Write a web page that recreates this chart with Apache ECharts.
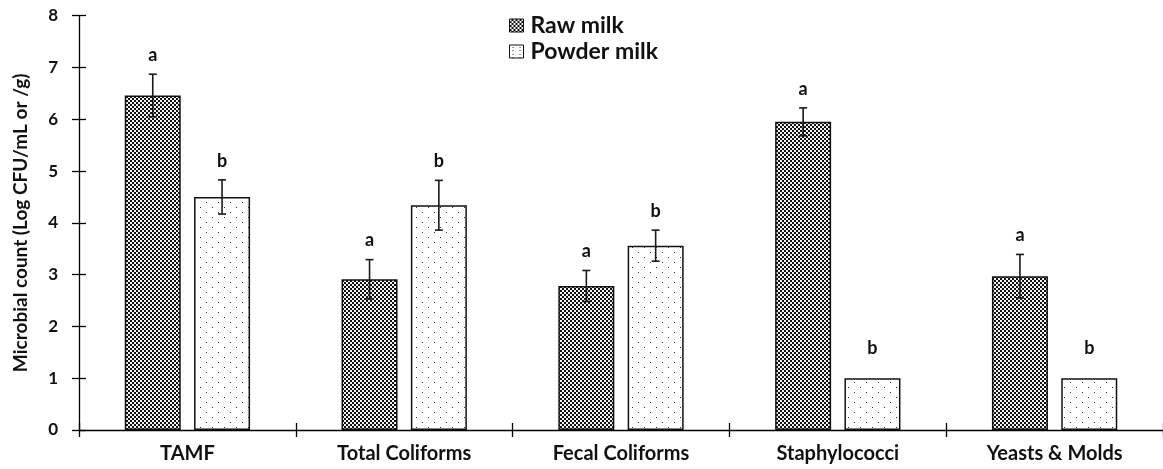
<!DOCTYPE html>
<html><head><meta charset="utf-8">
<script src="https://cdn.jsdelivr.net/npm/echarts@6/dist/echarts.min.js"></script>
<style>html,body{margin:0;padding:0;background:#fff}#c{width:1163px;height:469px}</style>
</head><body><div id="c"></div>
<script>
var categories = ['TAMF', 'Total Coliforms', 'Fecal Coliforms', 'Staphylococci', 'Yeasts & Molds'];
var rawMilk = [6.46, 2.91, 2.78, 5.95, 2.97];
var rawMilkSd = [0.41, 0.38, 0.30, 0.27, 0.42];
var rawLetters = ['a', 'a', 'a', 'a', 'a'];
var powderMilk = [4.50, 4.34, 3.56, 1.00, 1.00];
var powderMilkSd = [0.33, 0.48, 0.30, 0, 0];
var powderLetters = ['b', 'b', 'b', 'b', 'b'];
var yTicks = [0, 1, 2, 3, 4, 5, 6, 7, 8];

var FONT = 'Lato';
function makeRawPattern() {
  var c = document.createElement('canvas'); c.width = 4; c.height = 4;
  var g = c.getContext('2d');
  g.fillStyle = '#111'; g.fillRect(0, 0, 4, 4);
  g.fillStyle = '#f4f4f4'; g.fillRect(0, 0, 2, 2); g.fillRect(2, 2, 2, 2);
  return c;
}
function makePowderPattern() {
  var c = document.createElement('canvas'); c.width = 12; c.height = 10;
  var g = c.getContext('2d');
  g.fillStyle = '#fff'; g.fillRect(0, 0, 12, 10);
  g.fillStyle = '#333'; g.fillRect(2, 2, 1, 1); g.fillRect(8, 7, 1, 1);
  return c;
}
function makePowderIcon() {
  var c = document.createElement('canvas'); c.width = 7; c.height = 7;
  var g = c.getContext('2d');
  g.fillStyle = '#fff'; g.fillRect(0, 0, 7, 7);
  g.fillStyle = '#222'; g.fillRect(3, 2, 1, 1); g.fillRect(3, 5, 1, 1);
  return c;
}
var rawFill = { image: makeRawPattern(), repeat: 'repeat' };
var powderFill = { image: makePowderPattern(), repeat: 'repeat' };

var BAR_W = 56, GAP = 13.3;
function errSeries(means, sds, letters, dir) {
  var data = means.map(function (m, i) { return [i, m, sds[i]]; });
  return {
    type: 'custom', xAxisIndex: 0, yAxisIndex: 0, z: 5,
    data: data,
    renderItem: function (params, api) {
      var i = api.value(0), m = api.value(1), s = api.value(2);
      var letter = letters[params.dataIndex];
      var top = api.coord([i, m + s]);
      var bot = api.coord([i, m - s]);
      var x = top[0] + dir * (BAR_W + GAP) / 2;
      var children = [];
      if (s > 0) {
        var st = { stroke: '#1a1a1a', lineWidth: 1.6 };
        children.push({ type: 'line', shape: { x1: x, y1: top[1], x2: x, y2: bot[1] }, style: st });
        children.push({ type: 'line', shape: { x1: x - 4, y1: top[1], x2: x + 4, y2: top[1] }, style: st });
        children.push({ type: 'line', shape: { x1: x - 4, y1: bot[1], x2: x + 4, y2: bot[1] }, style: st });
      }
      children.push({ type: 'text', style: { text: letter, x: x, y: top[1] - (s > 0 ? 10 : 21), align: 'center', verticalAlign: 'bottom',
        fill: '#111', font: 'bold 18px ' + FONT } });
      return { type: 'group', children: children };
    }
  };
}

var chart = echarts.init(document.getElementById('c'), null, { renderer: 'canvas' });
var axisLine = { show: true, lineStyle: { color: '#000', width: 1.3 } };
chart.setOption({
  animation: false,
  backgroundColor: '#fff',
  grid: { left: 79, top: 15.7, bottom: 39, width: 1091 },
  legend: {
    left: 504, top: 9, orient: 'vertical', itemGap: 3, itemWidth: 14, itemHeight: 13,
    icon: 'rect', textStyle: { fontFamily: FONT, fontWeight: 'bold', fontSize: 23, color: '#111', padding: [0, 0, 0, 2] },
    data: [
      { name: 'Raw milk', itemStyle: { color: rawFill, borderColor: '#111', borderWidth: 1 } },
      { name: 'Powder milk', itemStyle: { color: { image: makePowderIcon(), repeat: 'repeat' }, borderColor: '#111', borderWidth: 1 } }
    ]
  },
  xAxis: [{
    type: 'category', data: categories, position: 'bottom',
    axisLine: axisLine,
    axisTick: { show: true, inside: false, length: 7, lineStyle: { color: '#000', width: 1.3 } },
    axisLabel: { margin: 14, fontFamily: FONT, fontWeight: 'bold', fontSize: 20, color: '#111' }
  }, {
    type: 'category', data: categories, position: 'bottom', gridIndex: 0,
    axisLine: { show: false }, axisTick: { show: true, inside: true, length: 7, lineStyle: { color: '#000', width: 1.3 } },
    axisLabel: { show: false }
  }],
  yAxis: [{
    type: 'value', min: 0, max: 8, interval: 1,
    name: 'Microbial count (Log CFU/mL or /g)', nameLocation: 'middle', nameGap: 49, nameRotate: 90,
    nameTextStyle: { fontFamily: FONT, fontWeight: 'bold', fontSize: 19, color: '#111' },
    axisLine: axisLine,
    axisTick: { show: true, inside: false, length: 7, lineStyle: { color: '#000', width: 1.3 } },
    axisLabel: { margin: 21, fontFamily: FONT, fontWeight: 'bold', fontSize: 17, color: '#111',
      formatter: function (v) { return yTicks.indexOf(v) >= 0 ? String(v) : ''; } },
    splitLine: { show: false }
  }, {
    type: 'value', min: 0, max: 8, interval: 1, position: 'left',
    axisLine: { show: false }, axisTick: { show: true, inside: true, length: 7, lineStyle: { color: '#000', width: 1.3 } },
    axisLabel: { show: false }, splitLine: { show: false }
  }],
  series: [
    { name: 'Raw milk', type: 'bar', data: rawMilk, barWidth: BAR_W, barGap: (GAP / BAR_W * 100).toFixed(1) + '%',
      itemStyle: { color: rawFill, borderColor: '#111', borderWidth: 1.5 } },
    { name: 'Powder milk', type: 'bar', data: powderMilk, barWidth: BAR_W,
      itemStyle: { color: powderFill, borderColor: '#111', borderWidth: 1.5 } },
    errSeries(rawMilk, rawMilkSd, rawLetters, -1),
    errSeries(powderMilk, powderMilkSd, powderLetters, 1)
  ]
});
</script></body></html>
